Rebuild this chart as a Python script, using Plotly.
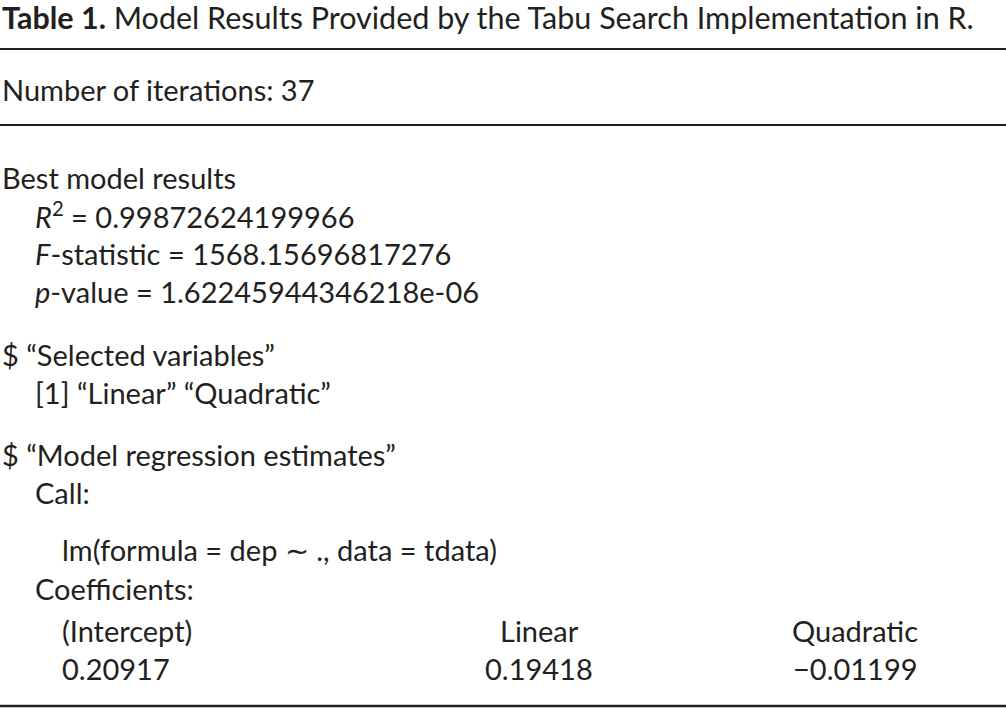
import plotly.graph_objects as go

# table content
title_bold = "Table 1."
title_rest = "Model Results Provided by the Tabu Search Implementation in R."
iterations = 37
r_squared = "0.99872624199966"
f_statistic = "1568.15696817276"
p_value = "1.62245944346218e-06"
selected_vars = ["Linear", "Quadratic"]
call_text = "lm(formula = dep \u223c ., data = tdata)"
coef_names = ["(Intercept)", "Linear", "Quadratic"]
coef_values = ["0.20917", "0.19418", "\u22120.01199"]

W, H = 1006, 709
FONT = "Lato"
COLOR = "#231f20"
SIZE = 29

fig = go.Figure()

# rows: (x, y, text)
rows = [
    (0, 89, f"Number of iterations: {iterations}"),
    (0, 177, "Best model results"),
    (33, 215, f"<i>R</i><sup>2</sup> = {r_squared}"),
    (33, 253, f"<i>F</i>-statistic = {f_statistic}"),
    (33, 291, f"<i>p</i>-value = {p_value}"),
    (0, 354, "$ \u201cSelected variables\u201d"),
    (33, 392, "[1] " + " ".join(f"\u201c{v}\u201d" for v in selected_vars)),
    (0, 454, "$ \u201cModel regression estimates\u201d"),
    (33, 492, "Call:"),
    (60, 549, call_text),
    (33, 588, "Coefficients:"),
]

for x, y, text in rows:
    fig.add_annotation(x=x, y=y, text=text, xanchor="left", yanchor="middle",
                       showarrow=False, font=dict(family=FONT, size=SIZE, color=COLOR))

# coefficient table columns
col_x = [60, 539, 855]
col_anchor = ["left", "center", "center"]
for cx, anc, name, val in zip(col_x, col_anchor, coef_names, coef_values):
    fig.add_annotation(x=cx, y=630, text=name, xanchor=anc, yanchor="middle",
                       showarrow=False, font=dict(family=FONT, size=SIZE, color=COLOR))
    fig.add_annotation(x=cx, y=668, text=val, xanchor=anc, yanchor="middle",
                       showarrow=False, font=dict(family=FONT, size=SIZE, color=COLOR))

# title
fig.add_annotation(x=0, y=17, text=f"<b>{title_bold}</b> {title_rest}", xanchor="left",
                   yanchor="middle", showarrow=False,
                   font=dict(family=FONT, size=30.5, color=COLOR))

# rules
for y, w in [(49, 2), (125, 2), (706, 2.5)]:
    fig.add_shape(type="line", x0=0, x1=W, y0=y, y1=y,
                  line=dict(color=COLOR, width=w))

fig.update_layout(
    width=W, height=H,
    margin=dict(l=0, r=0, t=0, b=0),
    paper_bgcolor="white", plot_bgcolor="white",
    xaxis=dict(range=[0, W], visible=False, fixedrange=True),
    yaxis=dict(range=[H, 0], visible=False, fixedrange=True),
    showlegend=False,
)

fig.write_html(
    "out.html",
    config={"displayModeBar": False},
    post_script="document.body.style.margin='0';document.body.style.overflow='hidden';",
)
